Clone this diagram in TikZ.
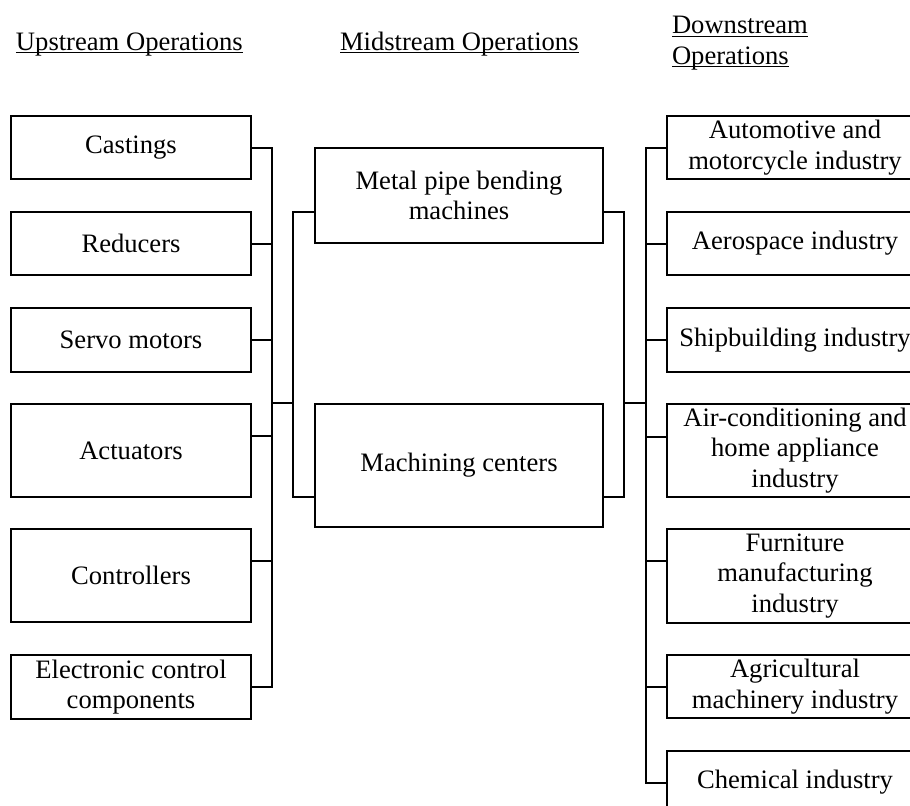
\documentclass[tikz,border=0pt]{standalone}
\usepackage{fontspec}
\setmainfont{Liberation Serif}
\usepackage{tikz}
\usetikzlibrary{positioning}
\newcommand{\boxfont}{\fontsize{13.3}{15.3}\selectfont}
\newcommand{\hdul}[1]{\underline{\smash{#1}}}
\tikzset{blk/.style={draw,line width=1pt,align=center,inner sep=2pt,font=\boxfont},
         upbox/.style={blk,minimum width=120pt},
         midbox/.style={blk,minimum width=144pt},
         downbox/.style={blk,minimum width=128pt},
         hdr/.style={inner sep=0pt,font=\boxfont}}

\begin{document}
\begin{tikzpicture}[x=0.5pt,y=-0.5pt,line width=1pt]
    \useasboundingbox (0,0) rectangle (910,805);
    \clip (0,0) rectangle (910,805);

    % headings
    \node[hdr,anchor=base west] (uphdr) at (15,50) {\hdul{Upstream Operations}};
    \node[hdr,anchor=base west] (midhdr) at (339,50) {\hdul{Midstream Operations}};
    \node[hdr,anchor=base west,align=left] (downhdr) at (671,64) {\hdul{Downstream}\\\hdul{Operations}};

    % upstream
    \node[upbox,minimum height=31.5pt] (cast) at (131,147.5) {Castings};
    \node[upbox,minimum height=31.5pt] (red) at (131,243.5) {Reducers};
    \node[upbox,minimum height=32pt] (servo) at (131,340) {Servo motors};
    \node[upbox,minimum height=46.5pt] (act) at (131,450.5) {Actuators};
    \node[upbox,minimum height=46.5pt] (ctrl) at (131,575.5) {Controllers};
    \node[upbox,minimum height=32pt] (ecc) at (131,687) {Electronic control\\components};

    % midstream
    \node[midbox,minimum height=47.5pt] (metal) at (459,195.5) {Metal pipe bending\\machines};
    \node[midbox,minimum height=61.5pt] (mach) at (459,465.5) {Machining centers};

    % downstream
    \node[downbox,minimum height=31.5pt] (auto) at (795,147.5) {Automotive and\\motorcycle industry};
    \node[downbox,minimum height=31.5pt] (aero) at (795,243.5) {Aerospace industry};
    \node[downbox,minimum height=32pt] (ship) at (795,340) {Shipbuilding industry};
    \node[downbox,minimum height=46.5pt] (aircon) at (795,450.5) {Air-conditioning and\\home appliance\\industry};
    \node[downbox,minimum height=47pt] (furn) at (795,576) {Furniture\\manufacturing\\industry};
    \node[downbox,minimum height=31.5pt] (agri) at (795,686.5) {Agricultural\\machinery industry};
    \node[downbox,minimum height=31.5pt] (chem) at (795,782.5) {Chemical industry};

    % bus lines
    \coordinate (lb) at (272,0);
    \coordinate (li) at (293,0);
    \coordinate (ri) at (624,0);
    \coordinate (rb) at (646,0);
    \coordinate (actp) at ([yshift=7.25pt]act.east);
    \coordinate (ctrlp) at ([yshift=7.25pt]ctrl.east);
    \coordinate (metl) at ([yshift=-8.25pt]metal.west);
    \coordinate (metr) at ([yshift=-8.25pt]metal.east);
    \coordinate (machl) at ([yshift=-15.75pt]mach.west);
    \coordinate (machr) at ([yshift=-15.75pt]mach.east);
    \coordinate (airp) at ([yshift=6.75pt]aircon.west);
    \coordinate (furnp) at ([yshift=7.5pt]furn.west);

    \draw (cast.east) -| (lb |- ecc.east) -- (ecc.east);
    \draw (red.east) -- (red.east -| lb);
    \draw (servo.east) -- (servo.east -| lb);
    \draw (actp) -- (actp -| lb);
    \draw (ctrlp) -- (ctrlp -| lb);
    \draw (lb |- mach.north) -- (li |- mach.north);

    \draw (metl) -| (li |- machl) -- (machl);
    \draw (metr) -| (ri |- machr) -- (machr);
    \draw (ri |- mach.north) -- (rb |- mach.north);

    \draw (auto.west) -| (rb |- chem.west) -- (chem.west);
    \draw (aero.west) -- (aero.west -| rb);
    \draw (ship.west) -- (ship.west -| rb);
    \draw (airp) -- (airp -| rb);
    \draw (furnp) -- (furnp -| rb);
    \draw (agri.west) -- (agri.west -| rb);
\end{tikzpicture}
\end{document}
